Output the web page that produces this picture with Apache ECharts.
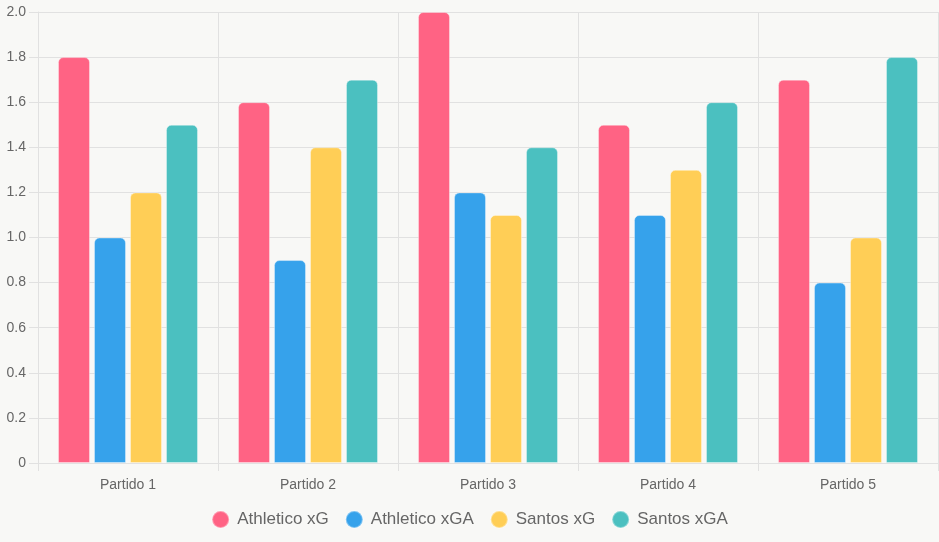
<!DOCTYPE html>
<html>
<head>
<meta charset="utf-8">
<script src="https://cdn.jsdelivr.net/npm/echarts@6/dist/echarts.min.js"></script>
<style>
  html, body { margin: 0; padding: 0; background: #f8f8f6; }
  #chart { width: 939px; height: 542px; }
</style>
</head>
<body>
<div id="chart"></div>
<script>
var categories = ['Partido 1', 'Partido 2', 'Partido 3', 'Partido 4', 'Partido 5'];
var athleticoXG = [1.8, 1.6, 2.0, 1.5, 1.7];
var athleticoXGA = [1.0, 0.9, 1.2, 1.1, 0.8];
var santosXG = [1.2, 1.4, 1.1, 1.3, 1.0];
var santosXGA = [1.5, 1.7, 1.4, 1.6, 1.8];

var gridColor = '#e1e1e1';
var font = 'Liberation Sans, Arial, sans-serif';

function bar(name, data, color) {
    return {
        name: name,
        type: 'bar',
        data: data,
        barWidth: 32,
        barGap: '12.5%',
        itemStyle: {
            color: color,
            borderColor: 'rgba(255,255,255,0.35)',
            borderWidth: 1,
            borderRadius: [5, 5, 0, 0]
        }
    };
}

var chart = echarts.init(document.getElementById('chart'));
chart.setOption({
    backgroundColor: '#f8f8f6',
    animation: false,
    grid: { left: 38, right: 1, top: 12, bottom: 79, containLabel: false },
    legend: {
        bottom: 8,
        icon: 'circle',
        itemWidth: 17,
        itemHeight: 17,
        itemGap: 16,
        textStyle: { color: '#666', fontSize: 17, fontFamily: font, padding: [0, 0, 0, 3] }
    },
    xAxis: {
        type: 'category',
        data: categories,
        axisLine: { lineStyle: { color: gridColor } },
        axisTick: { show: true, length: 8, lineStyle: { color: gridColor } },
        splitLine: { show: true, lineStyle: { color: gridColor } },
        axisLabel: { color: '#666', fontSize: 14, margin: 15, fontFamily: font }
    },
    yAxis: {
        type: 'value',
        min: 0,
        max: 2,
        interval: 0.2,
        axisLine: { show: true, lineStyle: { color: gridColor } },
        axisTick: { show: true, length: 9, lineStyle: { color: gridColor } },
        splitLine: { lineStyle: { color: gridColor } },
        axisLabel: {
            color: '#666',
            fontSize: 14,
            margin: 12,
            fontFamily: font,
            formatter: function (v) { return v === 0 ? '0' : v.toFixed(1); }
        }
    },
    series: [
        bar('Athletico xG', athleticoXG, '#ff6384'),
        bar('Athletico xGA', athleticoXGA, '#36a2eb'),
        bar('Santos xG', santosXG, '#ffce56'),
        bar('Santos xGA', santosXGA, '#4bc0c0')
    ]
});
</script>
</body>
</html>
